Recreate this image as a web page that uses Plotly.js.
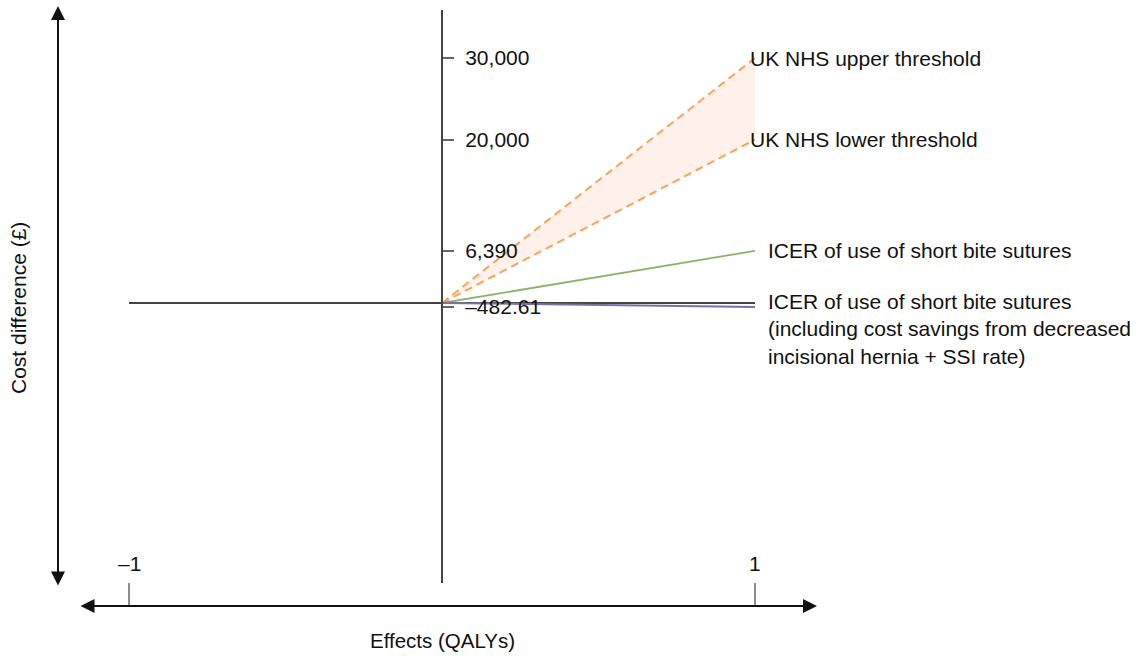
<!DOCTYPE html>
<html>
<head>
<meta charset="utf-8">
<script src="https://cdn.plot.ly/plotly-3.0.1.min.js"></script>
<style>html,body{margin:0;padding:0;background:#fff;}#chart{width:1140px;height:656px;}</style>
</head>
<body>
<div id="chart"></div>
<script>
// ---- data ----
const effectPoints = [0, 1];                       // QALY effect at origin and at 1
const thresholdValues = [30000, 20000];            // £ per QALY
const thresholdLabels = ['UK NHS upper threshold', 'UK NHS lower threshold'];
const icerValues = [6390, -482.61];
const icerLabels = ['ICER of use of short bite sutures',
  'ICER of use of short bite sutures<br>(including cost savings from decreased<br>incisional hernia + SSI rate)'];
const xTickVals = [-1, 1];
const xTickText = ['\u20131', '1'];
const yTickVals = [30000, 20000, 6390, -482.61];
const yTickText = ['30,000', '20,000', '6,390', '\u2013482.61'];
const xTitle = 'Effects (QALYs)';
const yTitle = 'Cost difference (£)';

// ---- layout geometry (pixel mapping of the schematic plane) ----
const W = 1140, H = 656;
const x0px = 442, xUnit = 313;          // px of x=0, px per QALY
const y0px = 303, yPerK = 8.1667;       // px of y=0, px per £1000
const px2x = p => (p - x0px) / xUnit;
const px2y = q => (y0px - q) / yPerK * 1000;

const FONT = '"Liberation Sans", Arial, sans-serif';
const orange = '#f5a35c', fillC = 'rgba(252,232,220,0.6)', green = '#8db36a', purple = '#7d6fa6', axisC = '#444';
const LBL = 21;

const traces = [];
traces.push({x: effectPoints, y: [0, thresholdValues[1]], mode: 'lines',
  line: {color: orange, width: 2, dash: '8px,5px'}, hoverinfo: 'skip', showlegend: false});
traces.push({x: effectPoints, y: [0, thresholdValues[0]], mode: 'lines', fill: 'tonexty', fillcolor: fillC,
  line: {color: orange, width: 2, dash: '8px,5px'}, hoverinfo: 'skip', showlegend: false});
traces.push({x: effectPoints, y: [0, icerValues[0]], mode: 'lines',
  line: {color: green, width: 1.8}, hoverinfo: 'skip', showlegend: false});
traces.push({x: effectPoints, y: [0, icerValues[1]], mode: 'lines',
  line: {color: purple, width: 2}, hoverinfo: 'skip', showlegend: false});

const shapes = [];
shapes.push({type: 'line', xref: 'x', yref: 'y', x0: xTickVals[0], x1: xTickVals[1], y0: 0, y1: 0,
  line: {color: axisC, width: 2}, layer: 'below'});
shapes.push({type: 'line', xref: 'x', yref: 'y', x0: 0, x1: 0, y0: px2y(10), y1: px2y(583),
  line: {color: axisC, width: 2}});
xTickVals.forEach(v => shapes.push({type: 'line', xref: 'x', yref: 'y', x0: v, x1: v,
  y0: px2y(583), y1: px2y(606), line: {color: '#666', width: 1.5}}));

const annotations = [];
annotations.push({xref: 'x', yref: 'y', axref: 'x', ayref: 'y',
  x: px2x(58), y: px2y(6), ax: px2x(58), ay: px2y(587), showarrow: true, arrowside: 'end+start',
  arrowhead: 2, arrowsize: 1.4, arrowwidth: 2, arrowcolor: '#111', text: ''});
annotations.push({xref: 'x', yref: 'y', axref: 'x', ayref: 'y',
  x: px2x(817), y: px2y(606), ax: px2x(79), ay: px2y(606), showarrow: true, arrowside: 'end+start',
  arrowhead: 2, arrowsize: 1.4, arrowwidth: 2, arrowcolor: '#111', text: ''});
xTickVals.forEach((v, i) => annotations.push({xref: 'x', yref: 'y', x: v, y: px2y(563), text: xTickText[i],
  showarrow: false, xanchor: 'center', yanchor: 'middle', font: {family: FONT, size: LBL, color: '#111'}}));
thresholdValues.forEach((v, i) => annotations.push({xref: 'x', yref: 'y', x: effectPoints[1], y: v,
  text: thresholdLabels[i], showarrow: false, xanchor: 'left', yanchor: 'middle', xshift: -7,
  font: {family: FONT, size: LBL, color: '#111'}}));
annotations.push({xref: 'x', yref: 'y', x: effectPoints[1], y: icerValues[0], text: icerLabels[0],
  showarrow: false, xanchor: 'left', yanchor: 'middle', xshift: 11, font: {family: FONT, size: LBL, color: '#111'}});
annotations.push({xref: 'x', yref: 'y', x: effectPoints[1], y: 0, text: icerLabels[1], align: 'left',
  showarrow: false, xanchor: 'left', yanchor: 'top', xshift: 11, yshift: 15, font: {family: FONT, size: LBL, color: '#111'}});
annotations.push({xref: 'paper', yref: 'paper', x: 18 / W, y: 1 - 308 / H, text: yTitle, textangle: -90,
  showarrow: false, xanchor: 'center', yanchor: 'middle', font: {family: FONT, size: 21, color: '#111'}});
annotations.push({xref: 'paper', yref: 'paper', x: x0px / W, y: 1 - 640 / H, text: xTitle,
  showarrow: false, xanchor: 'center', yanchor: 'middle', font: {family: FONT, size: 20.5, color: '#111'}});

const layout = {
  width: W, height: H, margin: {l: 0, r: 0, t: 0, b: 0},
  paper_bgcolor: '#fff', plot_bgcolor: '#fff', showlegend: false,
  font: {family: FONT, color: '#111'},
  xaxis: {range: [px2x(0), px2x(W)], visible: false, fixedrange: true},
  yaxis: {range: [px2y(H), px2y(0)], anchor: 'free', position: x0px / W, side: 'right',
    showline: false, showgrid: false, zeroline: false,
    ticks: 'outside', ticklen: 11, tickwidth: 2, tickcolor: '#666',
    tickvals: yTickVals, ticktext: yTickText, ticklabelstandoff: 7,
    tickfont: {family: FONT, size: LBL, color: '#111'}, fixedrange: true},
  shapes: shapes, annotations: annotations
};

Plotly.newPlot('chart', traces, layout, {staticPlot: true, displayModeBar: false});
</script>
</body>
</html>
